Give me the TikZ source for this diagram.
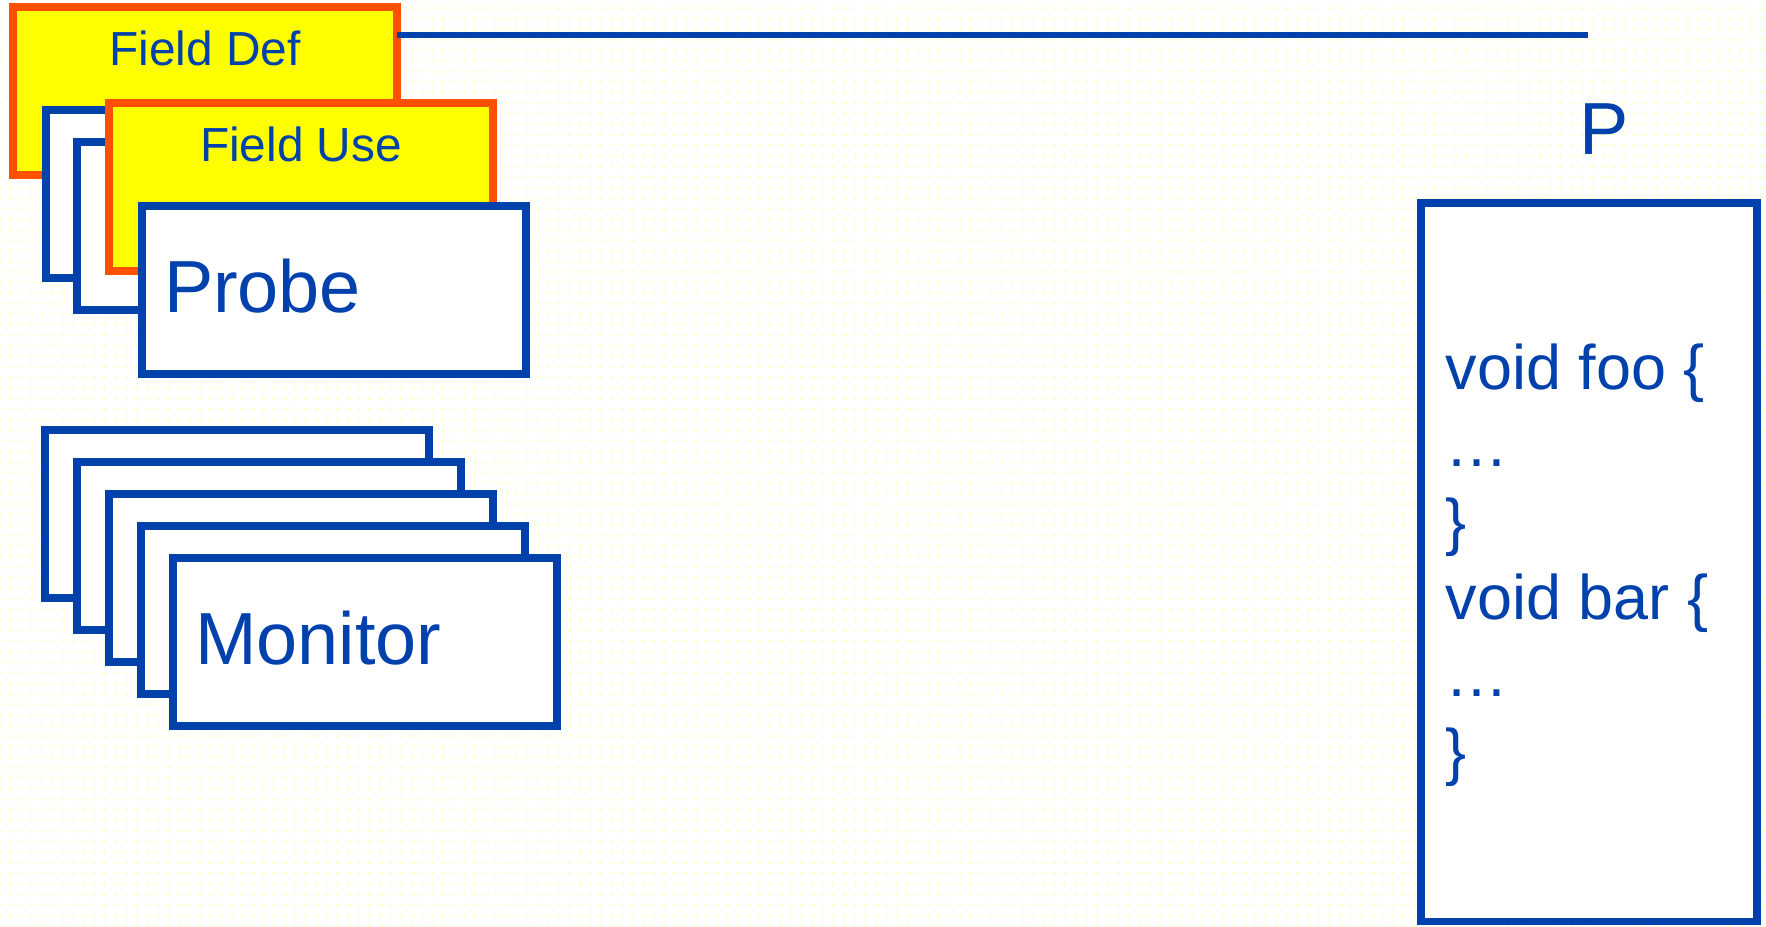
\documentclass[tikz,border=0pt]{standalone}
\usepackage{fontspec}
\setmainfont{Liberation Sans}
\usetikzlibrary{positioning, patterns}
\definecolor{pblue}{HTML}{0041AB}
\definecolor{forange}{HTML}{FF5000}
\definecolor{fyellow}{HTML}{FFFF00}
\definecolor{dotyellow}{HTML}{FFFFC8}

\begin{document}
\begin{tikzpicture}[x=0.01cm, y=-0.01cm, line width=2.2pt,
  box/.style={draw=#1, fill=white, line width=2.2pt, anchor=north west,
              minimum width=3.84cm, minimum height=1.68cm, inner sep=0pt, outer sep=0pt},
  field/.style={box=forange, fill=fyellow},
  bigtext/.style={font=\fontsize{21}{25}\selectfont, text=pblue, text depth=0pt,
                  text height=13pt, text width=3.4cm, align=left, inner xsep=0.22cm},
  fieldtext/.style={font=\fontsize{13.6}{16}\selectfont, text=pblue, anchor=base}]

% Background
\useasboundingbox (0,0) rectangle (1766,926);
\fill[white] (0,0) rectangle (1766,926);
\fill[pattern=dots, pattern color=dotyellow] (0,0) rectangle (1766,926);

% =========== PROBE STACK ===========
\node[field] (fielddef) at (13,7) {};
\node[fieldtext] (deftext) at ([yshift=-0.58cm]fielddef.north) {Field Def};

\node[box=pblue] (probeA) at (46,110) {};
\node[box=pblue] (probeB) at (77,142) {};

\node[field] (fielduse) at (109,103) {};
\node[fieldtext] (usetext) at ([yshift=-0.58cm]fielduse.north) {Field Use};

\node[box=pblue, bigtext] (probe) at (142,206) {Probe};

% line out to the program
\coordinate (lineend) at (1588,35);
\draw[pblue, line width=1.5pt] (fielddef.east |- lineend) -- (lineend);

% =========== MONITOR STACK ===========
\node[box=pblue] (monA) at (45,430) {};
\node[box=pblue] (monB) at (77,462) {};
\node[box=pblue] (monC) at (109,494) {};
\node[box=pblue] (monD) at (141,526) {};
\node[box=pblue, bigtext] (monitor) at (173,558) {Monitor};

% =========== PROGRAM ===========
\node[font=\fontsize{21}{25}\selectfont, text=pblue, anchor=base] (plabel) at (1604,154) {P};
\node[box=pblue, minimum width=3.355cm, minimum height=7.18cm] (prog) at (1421,203) {};

% code lines (base = last line)
\node[font=\fontsize{17.9}{21.8}\selectfont, text=pblue, align=left, anchor=base west,
      inner sep=0pt] (code) at (1442,773)
  {void foo \{\\ …\\ \}\\ void bar \{\\ …\\ \}};

\end{tikzpicture}
\end{document}
